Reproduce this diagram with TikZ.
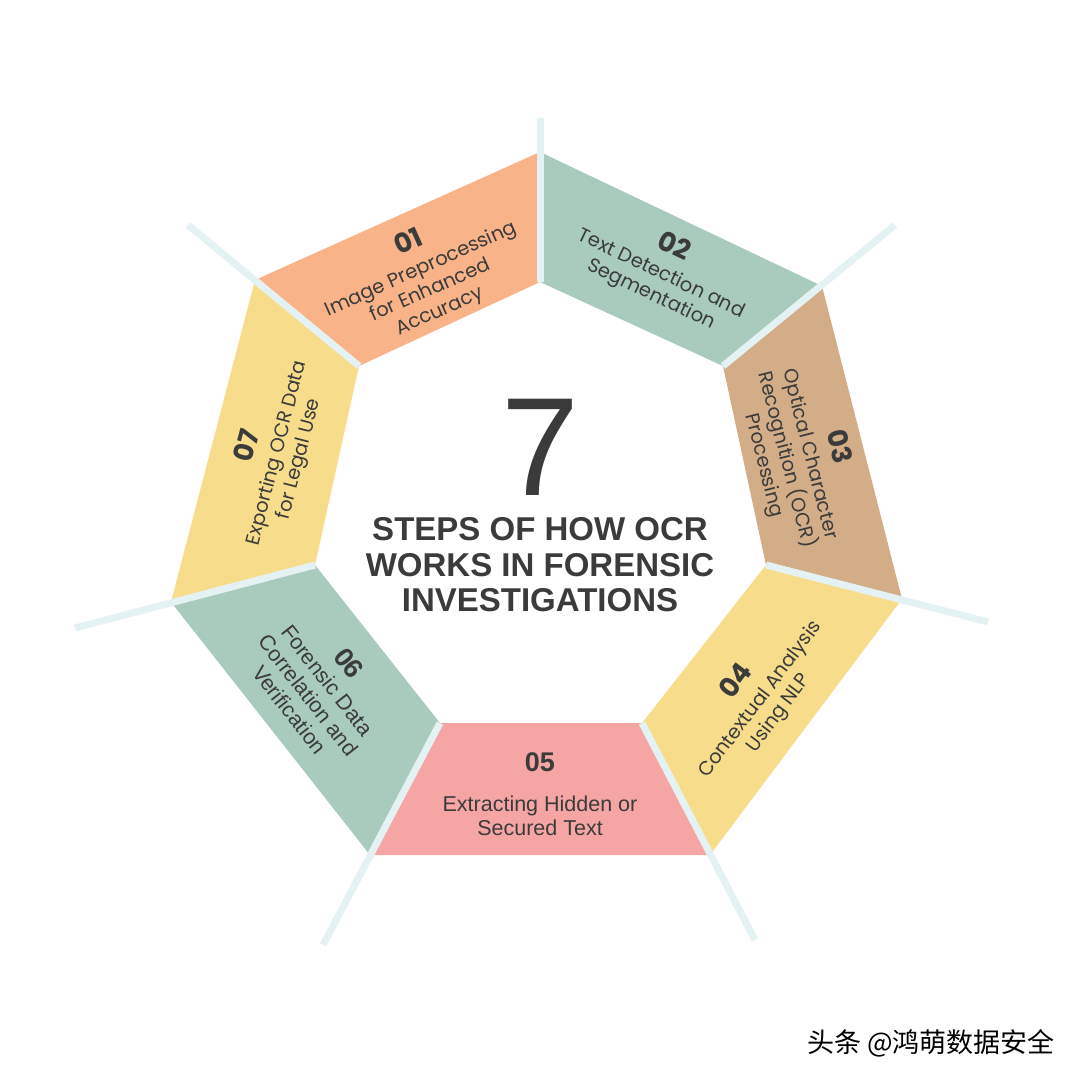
\documentclass[tikz,border=0pt]{standalone}
\usepackage{fontspec}
\setmainfont{Poppins}
\newfontfamily\plainsans{Liberation Sans}
\newfontfamily\cjkfont{Noto Sans CJK SC}
\definecolor{segorange}{HTML}{F9B389}
\definecolor{seggreen}{HTML}{A9CBBD}
\definecolor{segtan}{HTML}{D2AD88}
\definecolor{segyellow}{HTML}{F7DD8B}
\definecolor{segpink}{HTML}{F6A5A5}
\definecolor{sepcol}{HTML}{E5F2F3}
\definecolor{txtgray}{HTML}{3B3B3B}
\tikzset{
  sepline/.style={draw=sepcol, line width=7pt},
  seglabel/.style={text=txtgray, align=center, inner sep=0pt, font=\fontsize{19.5}{23}\selectfont},
  plainlabel/.style={text=txtgray, align=center, inner sep=0pt, font=\plainsans\fontsize{21.5}{24}\selectfont},
}
\newcommand{\stepnum}[1]{{\fontsize{27}{28}\selectfont\bfseries #1}}
\begin{document}
\begin{tikzpicture}[x=1pt,y=-1pt]
\useasboundingbox[fill=white] (0,0) rectangle (1080,1080);
% outer vertices
\coordinate (o0) at (540,152);
\coordinate (o1) at (822,286);
\coordinate (o2) at (902,599);
\coordinate (o3) at (710,855);
\coordinate (o4) at (370,855);
\coordinate (o5) at (171,602);
\coordinate (o6) at (255,280);
% inner vertices
\coordinate (i0) at (540,282);
\coordinate (i1) at (723,366);
\coordinate (i2) at (766,565);
\coordinate (i3) at (642,723);
\coordinate (i4) at (440,723);
\coordinate (i5) at (315,565);
\coordinate (i6) at (359,366);
% separator ends
\coordinate (e0) at (540,118);
\coordinate (e1) at (895,225);
\coordinate (e2) at (988,622);
\coordinate (e3) at (755,940);
\coordinate (e4) at (323,945);
\coordinate (e5) at (75,628);
\coordinate (e6) at (188,225);
% segments
\fill[segorange] (o6) -- (o0) -- (i0) -- (i6) -- cycle;
\fill[seggreen]  (o0) -- (o1) -- (i1) -- (i0) -- cycle;
\fill[segtan]    (o1) -- (o2) -- (i2) -- (i1) -- cycle;
\fill[segyellow] (o2) -- (o3) -- (i3) -- (i2) -- cycle;
\fill[segpink]   (o3) -- (o4) -- (i4) -- (i3) -- cycle;
\fill[seggreen]  (o4) -- (o5) -- (i5) -- (i4) -- cycle;
\fill[segyellow] (o5) -- (o6) -- (i6) -- (i5) -- cycle;
% separators
\foreach \k in {0,...,6} { \draw[sepline] (i\k) -- (e\k); }
% labels
\node[seglabel, rotate=24] (s1) at (424,276) {\stepnum{01}\\[4pt]Image Preprocessing\\for Enhanced\\Accuracy};
\node[seglabel, rotate=-25.5] (s2) at (663,270) {\stepnum{02}\\[4pt]Text Detection and\\Segmentation};
\node[seglabel, rotate=-75.7] (s3) at (802,456) {\stepnum{03}\\[4pt]Optical Character\\Recognition (OCR)\\Processing};
\node[seglabel, rotate=53] (s4) at (757,697) {\stepnum{04}\\[4pt]Contextual Analysis\\Using NLP};
\node[plainlabel] (s5) at (540,794) {\stepnum{05}\\[16pt]Extracting Hidden or\\Secured Text};
\node[plainlabel, rotate=-52] (s6) at (320,686) {\stepnum{06}\\[2pt]Forensic Data\\Correlation and\\Verification};
\node[seglabel, rotate=75.4] (s7) at (273,452) {\stepnum{07}\\[4pt]Exporting OCR Data\\for Legal Use};
% centre
\node[text=txtgray, inner sep=0pt, anchor=base, font=\plainsans\fontsize{140}{140}\selectfont] (seven) at (540,495) {7};
\node[text=txtgray, inner sep=0pt, align=center, font=\plainsans\bfseries\fontsize{33}{35.5}\selectfont] (title) at (540,565) {STEPS OF HOW OCR\\WORKS IN FORENSIC\\INVESTIGATIONS};
% watermark
\node[text=black, inner sep=0pt, anchor=east, font=\cjkfont\fontsize{27}{30}\selectfont] (wm) at (1055,1043) {头条 @鸿萌数据安全};
\end{tikzpicture}
\end{document}
